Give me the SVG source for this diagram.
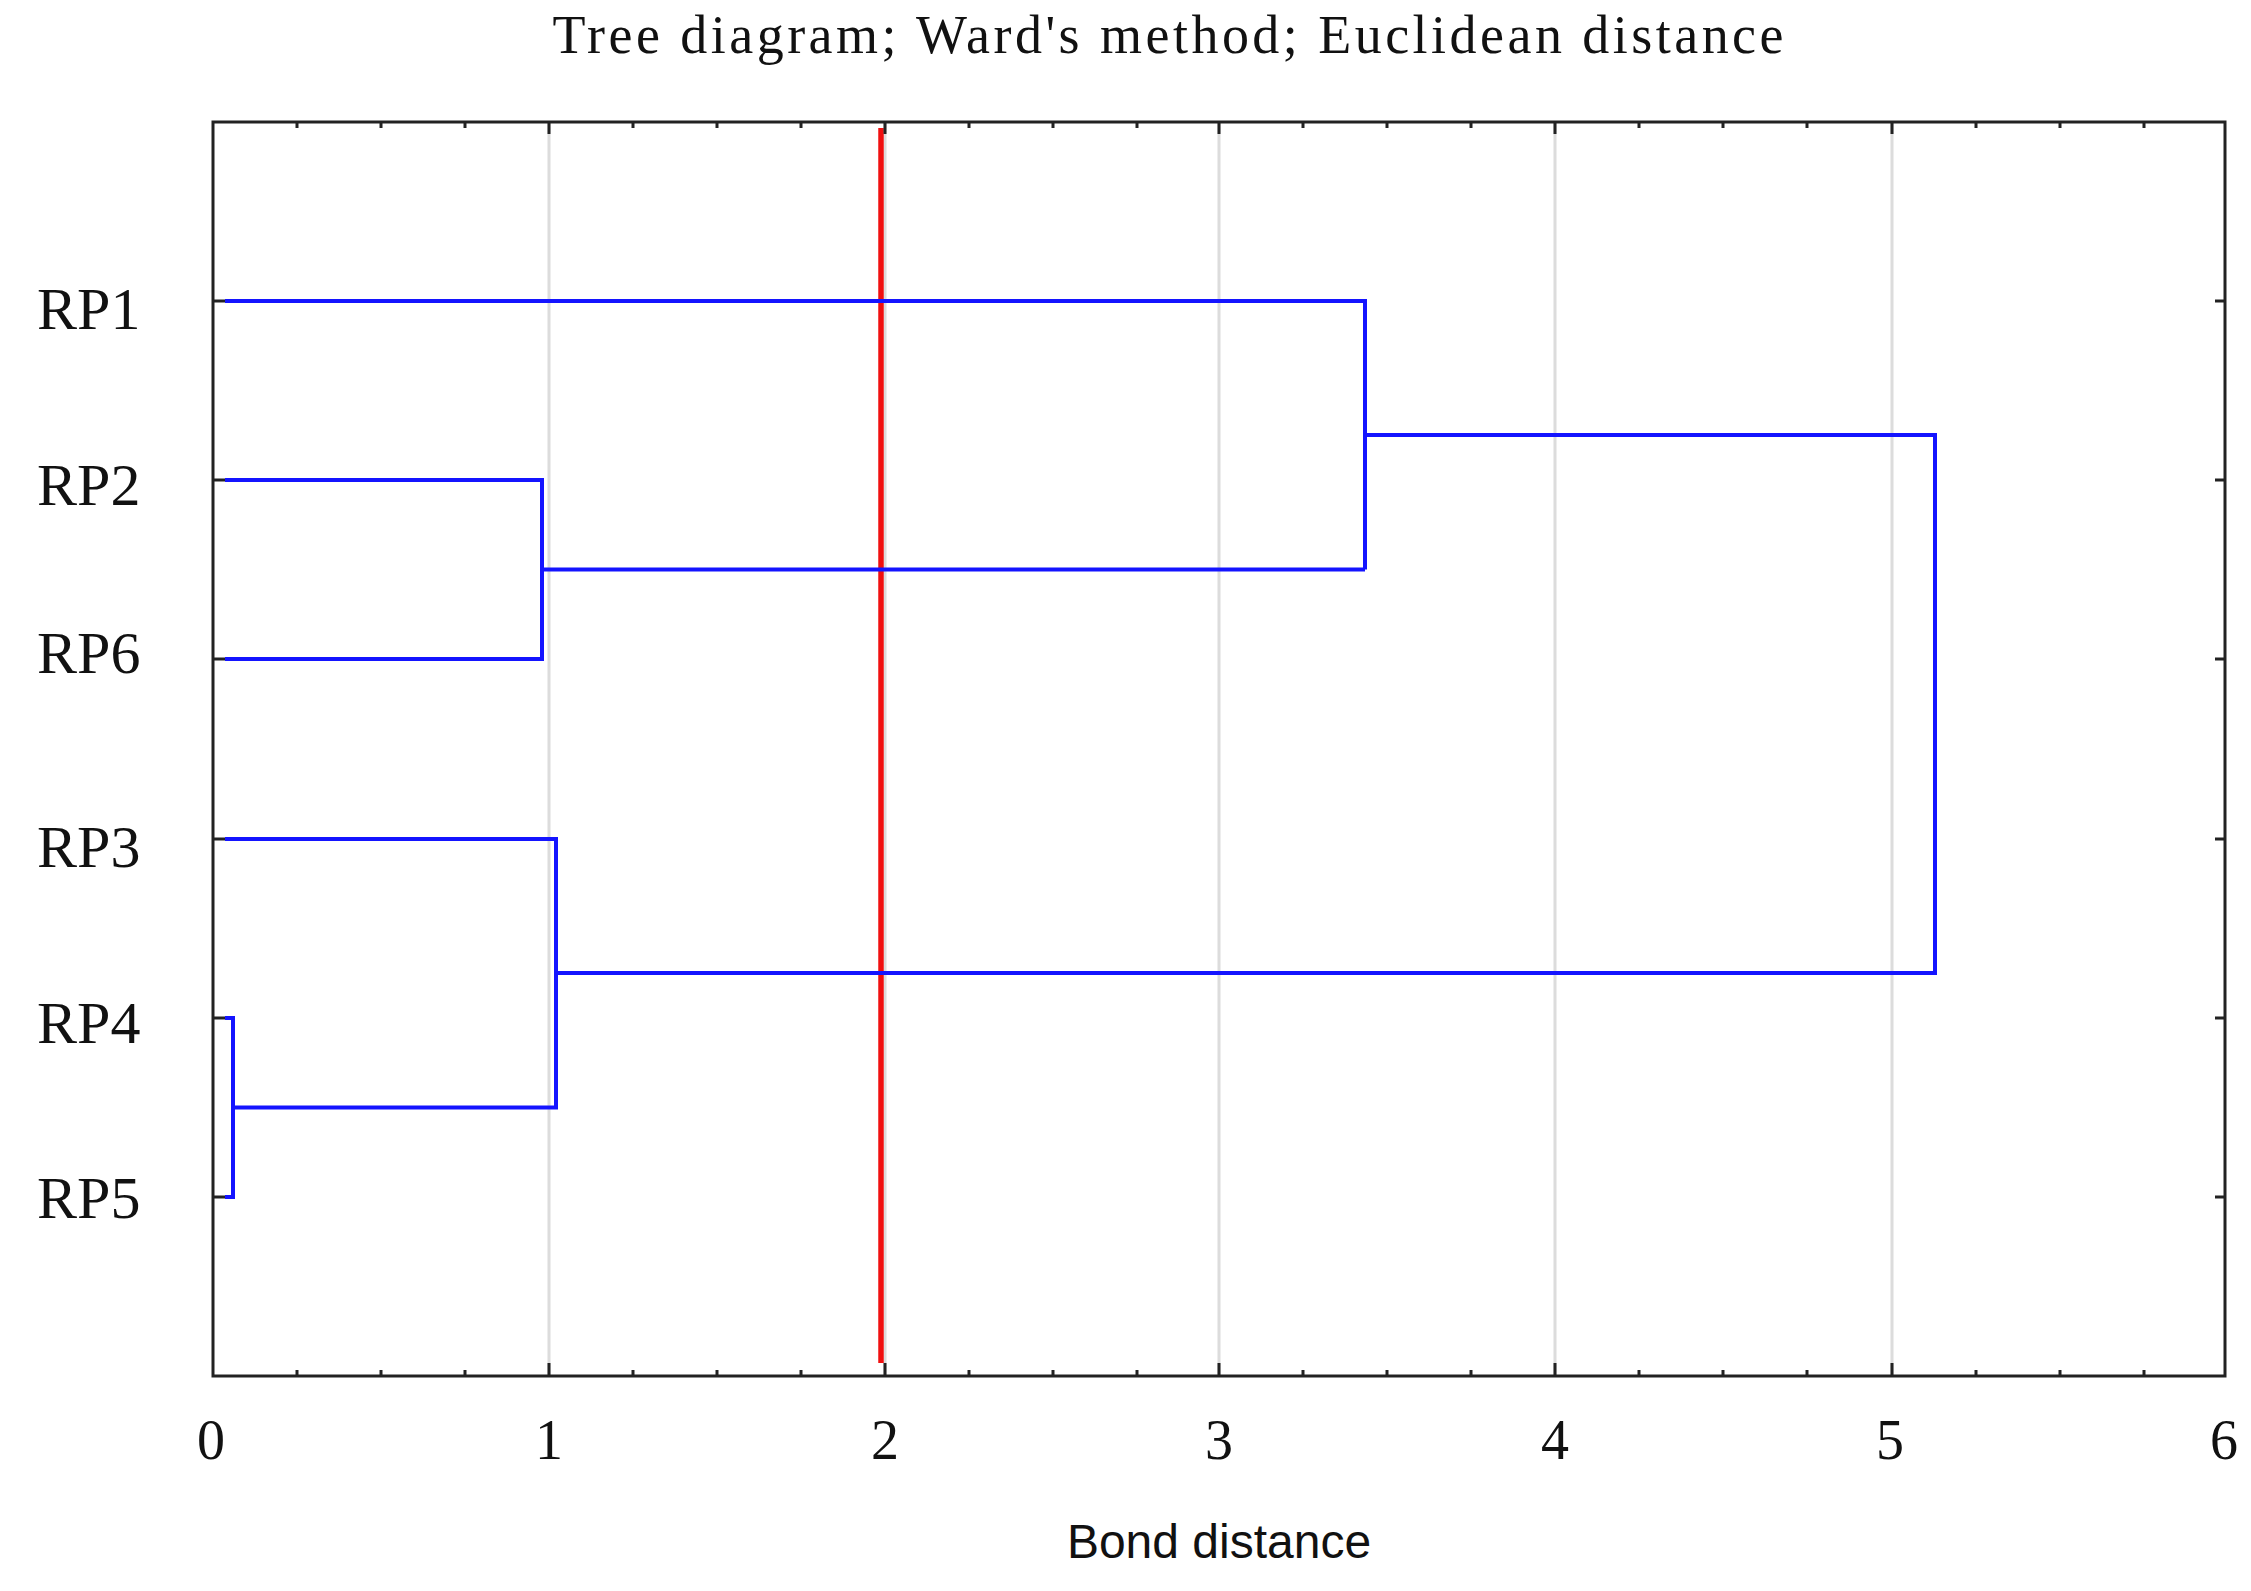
<svg xmlns="http://www.w3.org/2000/svg" width="2251" height="1591" viewBox="0 0 2251 1591">
<style>
.frame{fill:none;stroke:#222;stroke-width:3}
.tick{stroke:#222;stroke-width:3}
.grid{stroke:#dcdcdc;stroke-width:3}
.link{fill:none;stroke:#1414ff;stroke-width:4;stroke-linejoin:miter}
.cut{stroke:#f01010;stroke-width:5.5}
.lbl{font-family:"Liberation Serif","Times New Roman",serif;font-size:60px;fill:#111}
.num{font-family:"Liberation Serif","Times New Roman",serif;font-size:56px;fill:#111;text-anchor:middle}
.title{font-family:"Liberation Serif","Times New Roman",serif;font-size:54px;fill:#111;text-anchor:middle}
.axis{font-family:"Liberation Sans Narrow","Liberation Sans",Arial,sans-serif;font-size:48px;fill:#111;text-anchor:middle}
</style>
<rect width="2251" height="1591" fill="#fff"/>
<text class="title" x="1168" y="53" textLength="1231" lengthAdjust="spacing">Tree diagram; Ward's method; Euclidean distance</text>
<g id="grid">
<line class="grid" x1="549" y1="123" x2="549" y2="1375"/>
<line class="grid" x1="885" y1="123" x2="885" y2="1375"/>
<line class="grid" x1="1219" y1="123" x2="1219" y2="1375"/>
<line class="grid" x1="1555" y1="123" x2="1555" y2="1375"/>
<line class="grid" x1="1892" y1="123" x2="1892" y2="1375"/>
</g>
<g id="cutline"><line class="cut" x1="881" y1="128" x2="881" y2="1363"/></g>
<g id="connectors">
<polyline class="link" points="225,301 1365,301 1365,569.5"/>
<polyline class="link" points="225,480 542,480 542,659 225,659"/>
<line class="link" x1="542" y1="569.5" x2="1365" y2="569.5"/>
<polyline class="link" points="1365,435 1935,435 1935,973 556,973"/>
<polyline class="link" points="225,839 556,839 556,1107.5 233,1107.5"/>
<polyline class="link" points="225,1018 233,1018 233,1197 225,1197"/>
</g>
<g id="axes">
<rect class="frame" x="213" y="122" width="2012" height="1254"/>
<g id="ticks-top">
<path class="tick" d="M549,122v12M885,122v12M1219,122v12M1555,122v12M1892,122v12
M297,122v6M381,122v6M465,122v6M633,122v6M717,122v6M801,122v6M969,122v6M1053,122v6M1137,122v6M1303,122v6M1387,122v6M1471,122v6M1639,122v6M1723,122v6M1807,122v6M1976,122v6M2060,122v6M2144,122v6"/>
</g>
<g id="ticks-bottom">
<path class="tick" d="M549,1376v-13M885,1376v-13M1219,1376v-13M1555,1376v-13M1892,1376v-13
M297,1376v-6M381,1376v-6M465,1376v-6M633,1376v-6M717,1376v-6M801,1376v-6M969,1376v-6M1053,1376v-6M1137,1376v-6M1303,1376v-6M1387,1376v-6M1471,1376v-6M1639,1376v-6M1723,1376v-6M1807,1376v-6M1976,1376v-6M2060,1376v-6M2144,1376v-6"/>
</g>
<g id="ticks-side">
<path class="tick" d="M213,301h12M213,480h12M213,659h12M213,839h12M213,1018h12M213,1197h12
M2225,301h-10M2225,480h-10M2225,659h-10M2225,839h-10M2225,1018h-10M2225,1197h-10"/>
</g>
</g>
<g id="leaf-RP1"><text class="lbl" x="37" y="329">RP1</text></g>
<g id="leaf-RP2"><text class="lbl" x="37" y="505">RP2</text></g>
<g id="leaf-RP6"><text class="lbl" x="37" y="673">RP6</text></g>
<g id="leaf-RP3"><text class="lbl" x="37" y="867">RP3</text></g>
<g id="leaf-RP4"><text class="lbl" x="37" y="1043">RP4</text></g>
<g id="leaf-RP5"><text class="lbl" x="37" y="1218">RP5</text></g>
<g id="xlabels">
<text class="num" x="211" y="1459">0</text>
<text class="num" x="549" y="1459">1</text>
<text class="num" x="885" y="1459">2</text>
<text class="num" x="1219" y="1459">3</text>
<text class="num" x="1555" y="1459">4</text>
<text class="num" x="1890" y="1459">5</text>
<text class="num" x="2224" y="1459">6</text>
</g>
<text class="axis" x="1219" y="1558">Bond distance</text>
</svg>
